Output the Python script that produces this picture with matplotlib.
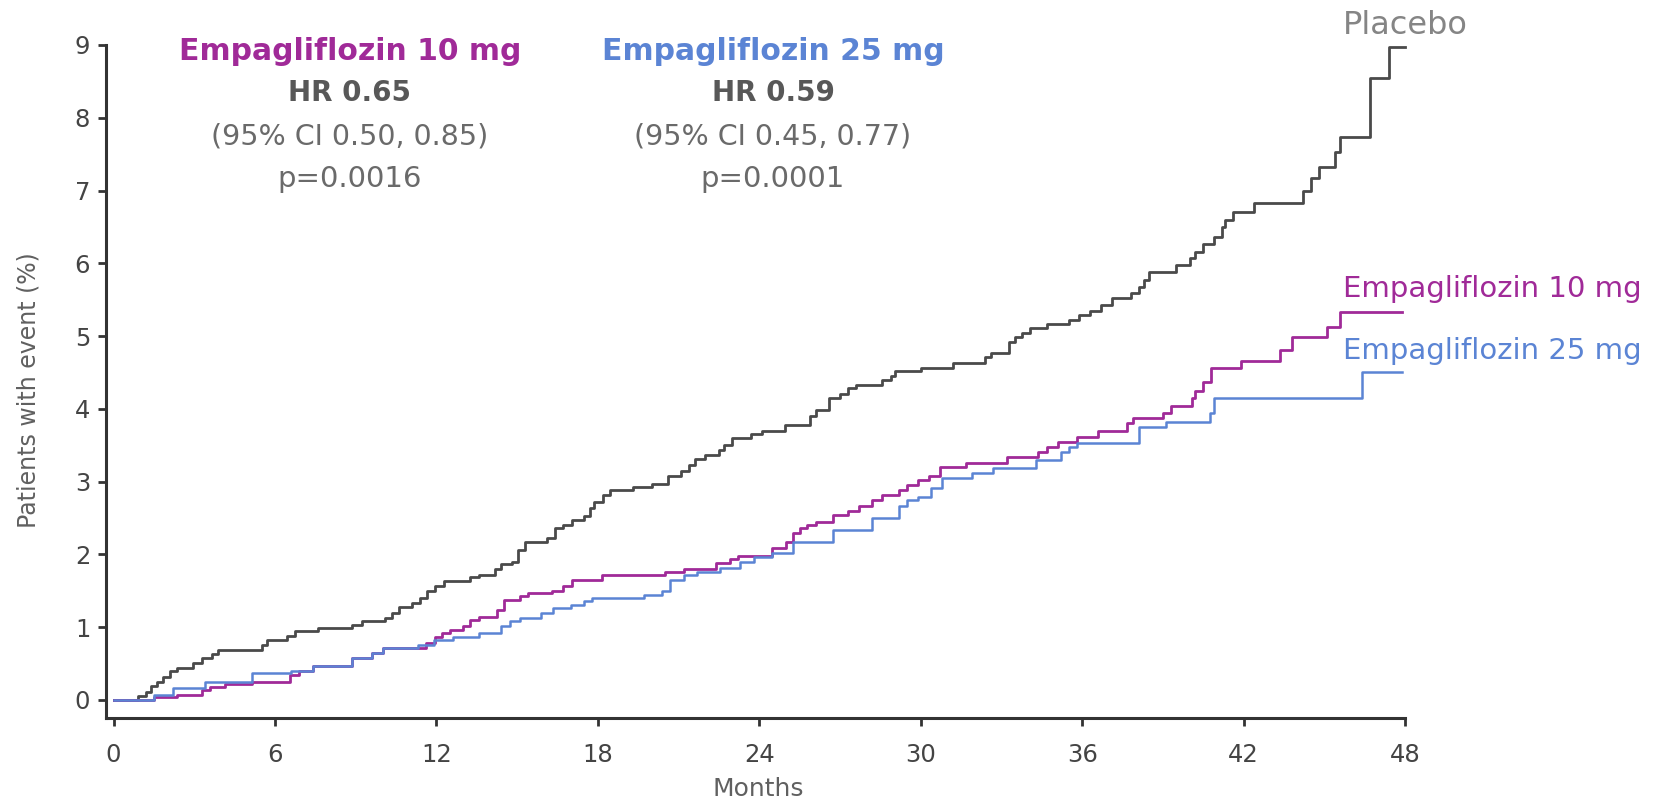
import matplotlib
matplotlib.use("Agg")
import matplotlib.pyplot as plt

# Cumulative incidence (%) by month, step changes (post)
placebo_months = [0, 0.9, 1.2, 1.4, 1.6, 1.85, 2.1, 2.35, 2.95, 3.3, 3.65, 3.9, 5.5, 5.7, 6.45, 6.75,
                  7.6, 8.85, 9.25, 10.1, 10.35, 10.6, 11.1, 11.4, 11.65, 11.95, 12.27, 13.26, 13.6,
                  14.19, 14.4, 14.8, 15.05, 15.3, 16.1, 16.4, 16.7, 17.04, 17.47, 17.7, 17.85, 18.2,
                  18.46, 19.3, 20.0, 20.6, 21.1, 21.4, 21.6, 22.0, 22.5, 22.7, 23.0, 23.7, 24.1,
                  24.96, 25.9, 26.1, 26.6, 27.0, 27.3, 27.6, 28.55, 28.9, 29.05, 30.0, 31.2, 32.4,
                  32.6, 33.3, 33.5, 33.75, 34.07, 34.7, 35.5, 35.9, 36.3, 36.7, 37.1, 37.8, 38.1,
                  38.3, 38.5, 39.5, 40.0, 40.2, 40.5, 40.9, 41.2, 41.3, 41.6, 42.4, 44.2, 44.5,
                  44.8, 45.4, 45.6, 46.7, 47.4, 48.0]
placebo_pct = [0, 0.05, 0.11, 0.19, 0.25, 0.32, 0.39, 0.44, 0.51, 0.58, 0.63, 0.69, 0.76, 0.82, 0.88,
               0.95, 0.99, 1.03, 1.08, 1.12, 1.19, 1.28, 1.33, 1.40, 1.49, 1.56, 1.63, 1.69, 1.72,
               1.80, 1.87, 1.90, 2.06, 2.17, 2.22, 2.36, 2.40, 2.47, 2.52, 2.63, 2.72, 2.81, 2.88,
               2.93, 2.97, 3.07, 3.14, 3.23, 3.31, 3.37, 3.43, 3.50, 3.60, 3.65, 3.70, 3.78, 3.90,
               3.98, 4.15, 4.21, 4.28, 4.33, 4.40, 4.45, 4.52, 4.56, 4.63, 4.71, 4.77, 4.92, 4.99,
               5.04, 5.11, 5.16, 5.22, 5.29, 5.35, 5.43, 5.52, 5.59, 5.68, 5.77, 5.88, 5.97, 6.07,
               6.16, 6.27, 6.36, 6.50, 6.59, 6.71, 6.83, 7.00, 7.17, 7.33, 7.53, 7.74, 8.55, 8.97,
               8.97]

empa10_months = [0, 1.5, 2.35, 3.3, 3.6, 4.15, 5.15, 6.55, 6.9, 7.4, 8.85, 9.6, 10.0, 11.6, 11.95,
                 12.2, 12.5, 13.0, 13.26, 13.6, 14.25, 14.5, 15.1, 15.4, 16.3, 16.7, 17.04, 18.15,
                 20.5, 21.2, 22.4, 22.9, 23.2, 24.47, 25.0, 25.26, 25.5, 25.77, 26.1, 26.75, 27.3,
                 27.7, 28.2, 28.55, 29.2, 29.5, 29.9, 30.3, 30.7, 31.7, 33.2, 34.37, 34.7, 35.1,
                 35.8, 36.6, 37.65, 37.9, 39.0, 39.3, 40.07, 40.2, 40.5, 40.8, 41.9, 43.35, 43.8,
                 45.1, 45.6, 47.9]
empa10_pct = [0, 0.04, 0.07, 0.14, 0.18, 0.22, 0.25, 0.34, 0.40, 0.46, 0.58, 0.64, 0.71, 0.78, 0.87,
              0.92, 0.96, 1.01, 1.10, 1.14, 1.24, 1.37, 1.42, 1.47, 1.49, 1.56, 1.65, 1.72, 1.75,
              1.80, 1.88, 1.93, 1.98, 2.09, 2.17, 2.29, 2.36, 2.40, 2.45, 2.54, 2.60, 2.66, 2.75,
              2.82, 2.88, 2.95, 3.02, 3.08, 3.20, 3.26, 3.34, 3.41, 3.48, 3.55, 3.61, 3.69, 3.80,
              3.87, 3.94, 4.04, 4.15, 4.24, 4.37, 4.56, 4.65, 4.81, 4.98, 5.13, 5.33, 5.33]

empa25_months = [0, 1.5, 2.2, 3.4, 5.15, 6.6, 7.4, 8.85, 9.6, 10.0, 11.3, 11.9, 12.6, 13.6, 14.4,
                 14.75, 15.1, 15.9, 16.35, 17.0, 17.47, 17.8, 19.7, 20.4, 20.7, 21.2, 21.7, 22.55,
                 23.3, 23.8, 24.47, 25.26, 26.75, 28.2, 29.2, 29.5, 29.9, 30.4, 30.8, 31.9, 32.7,
                 34.3, 35.2, 35.5, 35.8, 38.1, 39.1, 40.75, 40.9, 46.4, 47.9]
empa25_pct = [0, 0.07, 0.16, 0.25, 0.37, 0.40, 0.46, 0.58, 0.64, 0.71, 0.76, 0.82, 0.87, 0.92, 1.01,
              1.08, 1.13, 1.19, 1.26, 1.30, 1.36, 1.40, 1.44, 1.49, 1.65, 1.72, 1.75, 1.81, 1.90,
              1.96, 2.02, 2.17, 2.34, 2.50, 2.66, 2.75, 2.79, 2.91, 3.05, 3.12, 3.19, 3.30, 3.41,
              3.47, 3.53, 3.75, 3.82, 3.94, 4.15, 4.51, 4.51]

x_ticks = [0, 6, 12, 18, 24, 30, 36, 42, 48]
y_ticks = [0, 1, 2, 3, 4, 5, 6, 7, 8, 9]

hr_blocks = [
    ("Empagliflozin 10 mg", "HR 0.65", "(95% CI 0.50, 0.85)", "p=0.0016"),
    ("Empagliflozin 25 mg", "HR 0.59", "(95% CI 0.45, 0.77)", "p=0.0001"),
]

C_PLACEBO = "#4a4a4a"
C_E10 = "#a02a98"
C_E25 = "#5b84d4"
C_AXIS = "#333333"

plt.rcParams["font.family"] = ["DejaVu Sans"]

W, H = 1655, 806
fig = plt.figure(figsize=(W / 100, H / 100), dpi=100)
ax = fig.add_axes([105.5 / W, 88 / H, (1405 - 105.5) / W, (761 - 88) / H])

ax.step(placebo_months, placebo_pct, where="post", color=C_PLACEBO, lw=2.0, clip_on=False, zorder=3)
ax.step(empa10_months, empa10_pct, where="post", color=C_E10, lw=2.0, clip_on=False, zorder=4)
ax.step(empa25_months, empa25_pct, where="post", color=C_E25, lw=1.8, clip_on=False, zorder=5)

ax.set_xlim(-0.3, 48)
ax.set_ylim(-0.25, 9)
ax.set_xticks(x_ticks)
ax.set_yticks(y_ticks)
for s in ("top", "right"):
    ax.spines[s].set_visible(False)
for s in ("left", "bottom"):
    ax.spines[s].set_color(C_AXIS)
    ax.spines[s].set_linewidth(2.2)
ax.tick_params(axis="both", colors=C_AXIS, width=2.0, length=6, labelsize=17.5, labelcolor="#444444")
ax.tick_params(axis="x", pad=12)
ax.tick_params(axis="y", pad=5)

ax.set_xlabel("Months", fontsize=18, color="#606060")
ax.xaxis.set_label_coords(0.502, -0.106)
ax.xaxis.label.set_va("center")
ax.set_ylabel("Patients with event (%)", fontsize=17, color="#606060")
ax.yaxis.set_label_coords(-0.0593, 0.487)
ax.yaxis.label.set_va("center")


def fx(px):
    return px / W


def fy(py):
    return 1 - py / H


# Hazard-ratio annotation blocks
for (name, hr, ci, p), cx, col in zip(hr_blocks, (350, 773), (C_E10, C_E25)):
    fig.text(fx(cx), fy(52), name, ha="center", va="center", fontsize=21.5, fontweight="bold", color=col)
    fig.text(fx(cx), fy(93), hr, ha="center", va="center", fontsize=20, fontweight="bold", color="#585858")
    fig.text(fx(cx), fy(137), ci, ha="center", va="center", fontsize=20.5, color="#6a6a6a")
    fig.text(fx(cx), fy(179), p, ha="center", va="center", fontsize=21, color="#6a6a6a")

# Curve labels at the right end
fig.text(fx(1343), fy(25), "Placebo", ha="left", va="center", fontsize=23, color="#858585")
fig.text(fx(1343), fy(289), "Empagliflozin 10 mg", ha="left", va="center", fontsize=21, color=C_E10)
fig.text(fx(1343), fy(351), "Empagliflozin 25 mg", ha="left", va="center", fontsize=21, color=C_E25)

fig.savefig("out.png", dpi=100, facecolor="white")
